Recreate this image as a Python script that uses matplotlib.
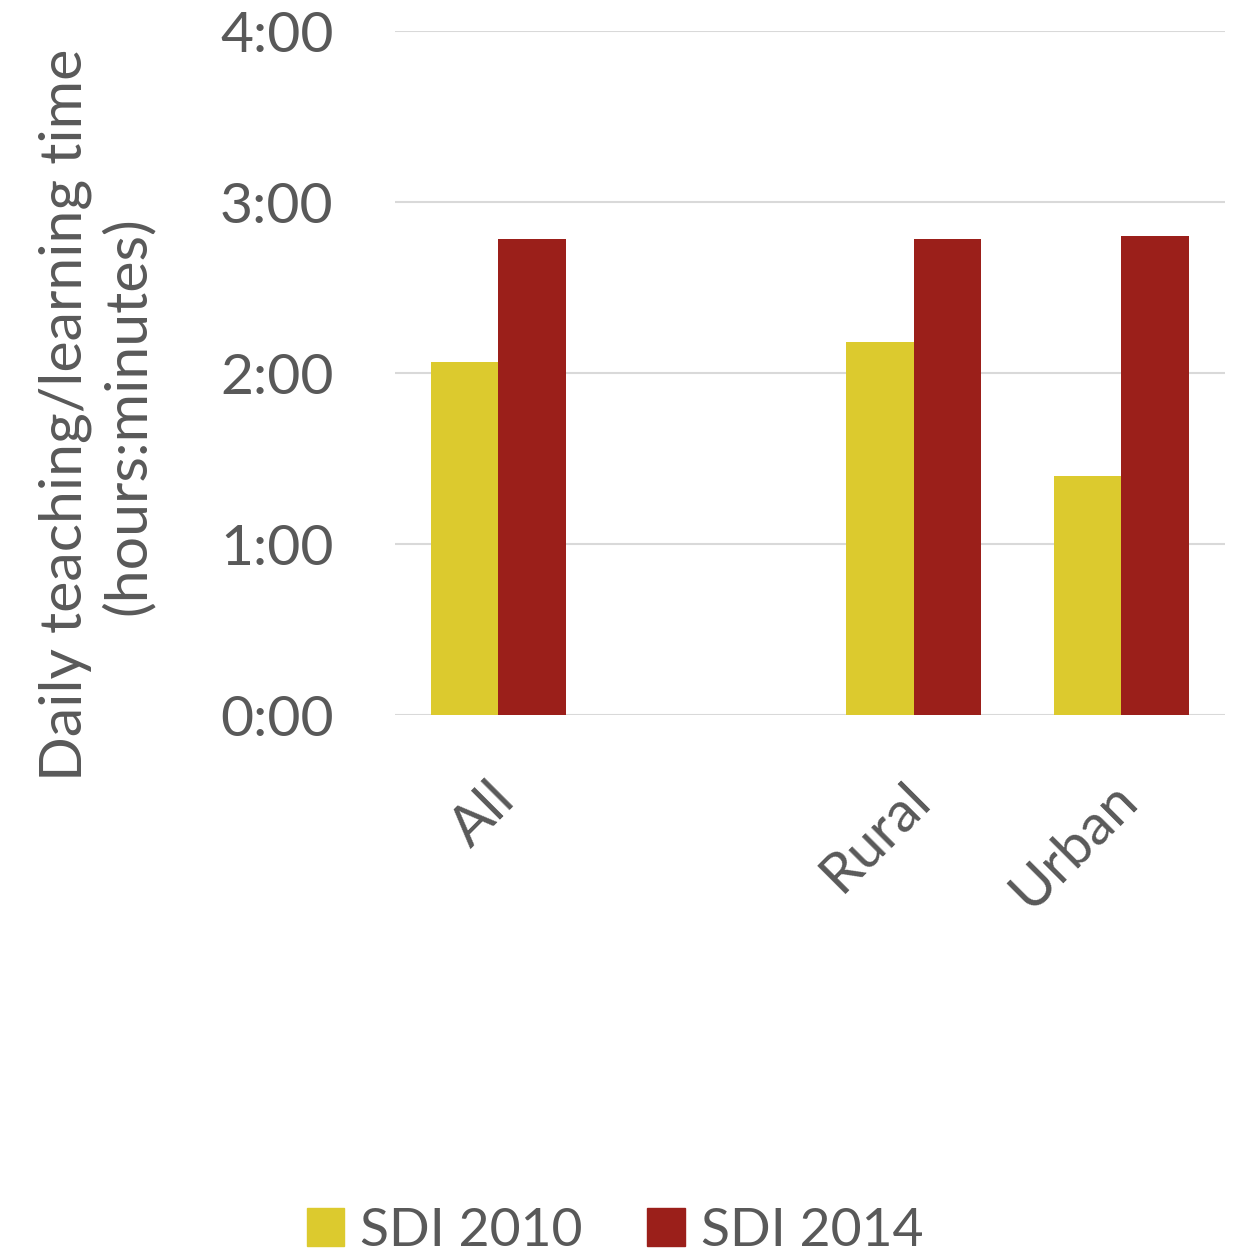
import matplotlib
matplotlib.use("Agg")
import matplotlib.pyplot as plt
import matplotlib.transforms as mtransforms
import numpy as np
from matplotlib.patches import Patch

categories = ["All", "", "Rural", "Urban"]
sdi_2010 = [2.067, np.nan, 2.183, 1.40]   # hours
sdi_2014 = [2.783, np.nan, 2.783, 2.80]
series_names = ["SDI 2010", "SDI 2014"]
yticks = [0, 1, 2, 3, 4]
ytick_labels = ["0:00", "1:00", "2:00", "3:00", "4:00"]

yellow = "#DCCA2E"
red = "#9B1F1A"
gray = "#595959"

plt.rcParams["font.family"] = ["Lato", "DejaVu Sans"]

fig = plt.figure(figsize=(12.41, 12.54), dpi=100)
ax = fig.add_axes([0.318, 0.4298, 0.669, 0.5452])

x = np.arange(len(categories))
w = 0.325
ax.bar(x - w / 2, sdi_2010, width=w, color=yellow, zorder=3)
ax.bar(x + w / 2, sdi_2014, width=w, color=red, zorder=3)

ax.set_xlim(-0.5, len(categories) - 0.5)
ax.set_ylim(0, 4)
ax.set_yticks(yticks)
ax.set_yticklabels(ytick_labels, fontsize=41, color=gray)
ax.yaxis.grid(True, color="#D9D9D9", linewidth=1.5, zorder=0)
ax.tick_params(axis="y", length=0, pad=44)
ax.tick_params(axis="x", length=0, pad=42)
for s in ax.spines.values():
    s.set_visible(False)

ax.set_xticks(x)
ax.set_xticklabels(categories, rotation=45, ha="right", rotation_mode="anchor",
                   fontsize=41, color=gray)
shift = mtransforms.ScaledTranslation(-0.1, 0, fig.dpi_scale_trans)
for lbl in ax.get_xticklabels():
    lbl.set_transform(lbl.get_transform() + shift)

ax.set_ylabel("Daily teaching/learning time\n(hours:minutes)", fontsize=42.5,
              color=gray, linespacing=1.2)
ax.yaxis.set_label_coords(-0.289, 0.4386)

handles = [Patch(color=yellow), Patch(color=red)]
fig.legend(handles, series_names, loc="lower center", bbox_to_anchor=(0.4956, -0.039),
           ncol=2, frameon=False, fontsize=38.5, labelcolor=gray,
           handlelength=0.7, handleheight=0.7, handletextpad=0.3, columnspacing=1.2)

fig.savefig("out.png", dpi=100)
